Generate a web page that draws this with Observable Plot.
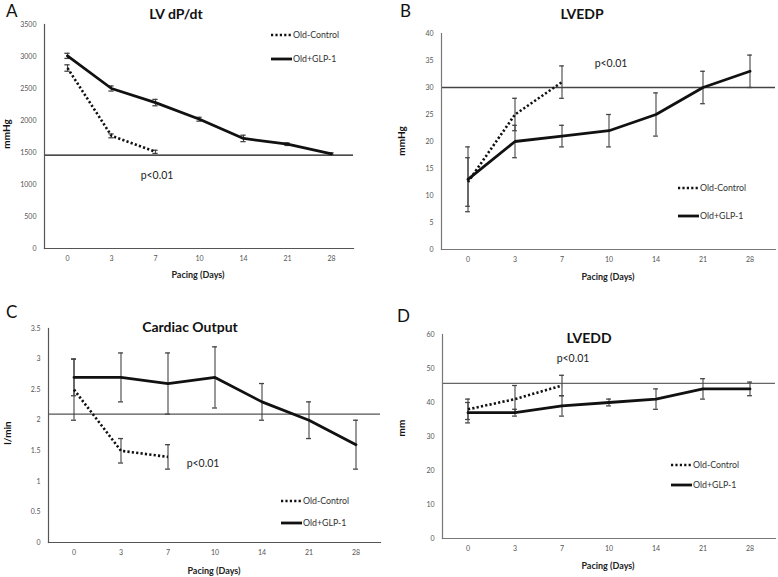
<!DOCTYPE html>
<html>
<head>
<meta charset="utf-8">
<script src="https://cdn.jsdelivr.net/npm/d3@7"></script>
<script src="https://cdn.jsdelivr.net/npm/@observablehq/plot@0.6"></script>
<style>
  body { margin: 0; background: #fff; }
  #wrap { position: relative; width: 778px; height: 577px; background: #fff; font-family: Lato, "Open Sans", sans-serif; }
  .panel { position: absolute; }
</style>
</head>
<body>
<div id="wrap"></div>
<script>
// ---------------- data ----------------
const days = ["0", "3", "7", "10", "14", "21", "28"];
const controlDays = ["0", "3", "7"];

// A: LV dP/dt (mmHg)
const aControl = [2820, 1760, 1510];
const aControlErr = [50, 30, 25];
const aGlp = [3010, 2500, 2280, 2020, 1720, 1630, 1480];
const aGlpErr = [40, 40, 50, 30, 50, 20, 15];
const aRef = 1460;
const aTicks = [0, 500, 1000, 1500, 2000, 2500, 3000, 3500];

// B: LVEDP (mmHg)
const bControl = [12.5, 25, 31];
const bControlErr = [4.5, 3, 3];
const bGlp = [13, 20, 21, 22, 25, 30, 33];
const bGlpErr = [6, 3, 2, 3, 4, 3, 3];
const bRef = 30;
const bTicks = [0, 5, 10, 15, 20, 25, 30, 35, 40];

// C: Cardiac Output (l/min)
const cControl = [2.5, 1.5, 1.4];
const cControlErr = [0.5, 0.2, 0.2];
const cGlp = [2.7, 2.7, 2.6, 2.7, 2.3, 2.0, 1.6];
const cGlpErr = [0.3, 0.4, 0.5, 0.5, 0.3, 0.3, 0.4];
const cRef = 2.1;
const cTicks = [0, 0.5, 1, 1.5, 2, 2.5, 3, 3.5];

// D: LVEDD (mm)
const dControl = [38, 41, 45];
const dControlErr = [3, 4, 3];
const dGlp = [37, 37, 39, 40, 41, 44, 44];
const dGlpErr = [3, 1, 3, 1, 3, 3, 2];
const dRef = 45.6;
const dTicks = [0, 10, 20, 30, 40, 50, 60];

const seriesNames = ["Old-Control", "Old+GLP-1"];
const xTitle = "Pacing (Days)";

// ---------------- helpers ----------------
function rows(cats, vals, errs, series) {
  return cats.map((d, i) => ({day: d, value: vals[i], lo: vals[i] - errs[i], hi: vals[i] + errs[i], series}));
}

function panel(cfg) {
  const ctrl = rows(controlDays, cfg.control, cfg.controlErr, seriesNames[0]);
  const glp = rows(days, cfg.glp, cfg.glpErr, seriesNames[1]);
  const all = ctrl.concat(glp);
  const bw = (cfg.W - cfg.mL - cfg.mR) / days.length;
  const capInset = bw / 2 - 2.7;
  const plot = Plot.plot({
    width: cfg.W, height: cfg.H,
    marginLeft: cfg.mL, marginRight: cfg.mR, marginTop: cfg.mT, marginBottom: cfg.mB,
    style: {fontFamily: "Lato, 'Open Sans', sans-serif", background: "transparent", overflow: "visible"},
    x: {type: "band", domain: days, padding: 0},
    y: {domain: [cfg.ticks[0], cfg.ticks[cfg.ticks.length - 1]]},
    marks: [
      Plot.axisY({ticks: cfg.ticks, tickSize: 0, tickPadding: 8, fontSize: 7, fill: "#555", label: null,
                  tickFormat: d => String(d)}),
      Plot.axisX({tickSize: 0, tickPadding: 8, fontSize: 7, fill: "#555", label: null}),
      Plot.ruleY([cfg.ref], {stroke: cfg.refColor, strokeWidth: 1.3}),
      Plot.ruleX(all, {x: "day", y1: "lo", y2: "hi", stroke: "#444", strokeWidth: 1.1}),
      Plot.tickY(all, {x: "day", y: "lo", stroke: "#444", strokeWidth: 1.3, insetLeft: capInset, insetRight: capInset}),
      Plot.tickY(all, {x: "day", y: "hi", stroke: "#444", strokeWidth: 1.3, insetLeft: capInset, insetRight: capInset}),
      Plot.line(ctrl, {x: "day", y: "value", stroke: "#111", strokeWidth: 2.6, strokeDasharray: "2.2 2.2", strokeLinecap: "butt"}),
      Plot.line(glp, {x: "day", y: "value", stroke: "#111", strokeWidth: 2.8}),
      Plot.frame({anchor: "left", stroke: cfg.axisColor, strokeWidth: 1.2}),
      Plot.frame({anchor: "bottom", stroke: cfg.axisColor, strokeWidth: 1.2})
    ]
  });

  const svg = d3.select(plot);
  const font = "Lato, 'Open Sans', sans-serif";
  svg.append("text").attr("x", cfg.letterX).attr("y", cfg.letterY).attr("font-size", 17)
    .attr("text-anchor", "start").attr("font-family", font).attr("fill", "#111").text(cfg.letter);
  svg.append("text").attr("x", cfg.titleX).attr("y", cfg.titleY).attr("font-size", 14).attr("font-weight", "bold")
    .attr("text-anchor", "middle").attr("font-family", font).attr("fill", "#111").text(cfg.title);
  svg.append("text").attr("transform", `translate(${cfg.yLabX},${cfg.yLabY}) rotate(-90)`)
    .attr("font-size", 10).attr("font-weight", "bold").attr("text-anchor", "middle")
    .attr("font-family", font).attr("fill", "#111").text(cfg.yLabel);
  svg.append("text").attr("x", cfg.xLabX).attr("y", cfg.xLabY).attr("font-size", 9).attr("font-weight", "bold")
    .attr("text-anchor", "middle").attr("font-family", font).attr("fill", "#222").text(xTitle);
  svg.append("text").attr("x", cfg.pX).attr("y", cfg.pY).attr("font-size", 10.5)
    .attr("text-anchor", "middle").attr("font-family", font).attr("fill", "#222").text("p<0.01");
  const lg = svg.append("g");
  lg.append("line").attr("x1", cfg.legX).attr("x2", cfg.legX + 21).attr("y1", cfg.legY1).attr("y2", cfg.legY1)
    .attr("stroke", "#111").attr("stroke-width", 2.4).attr("stroke-dasharray", "2.2 2.2");
  lg.append("line").attr("x1", cfg.legX).attr("x2", cfg.legX + 21).attr("y1", cfg.legY2).attr("y2", cfg.legY2)
    .attr("stroke", "#111").attr("stroke-width", 2.8);
  lg.append("text").attr("x", cfg.legX + 22).attr("y", cfg.legY1 + 3).attr("font-size", 8.8)
    .attr("text-anchor", "start").attr("font-family", font).attr("fill", "#333").text(seriesNames[0]);
  lg.append("text").attr("x", cfg.legX + 22).attr("y", cfg.legY2 + 3).attr("font-size", 8.8)
    .attr("text-anchor", "start").attr("font-family", font).attr("fill", "#333").text(seriesNames[1]);

  const div = document.createElement("div");
  div.className = "panel";
  div.style.left = cfg.left + "px";
  div.style.top = cfg.top + "px";
  div.appendChild(plot);
  document.getElementById("wrap").appendChild(div);
}

panel({
  left: 0, top: 0, W: 389, H: 285, mL: 44, mR: 36, mT: 24, mB: 37,
  control: aControl, controlErr: aControlErr, glp: aGlp, glpErr: aGlpErr, ref: aRef, ticks: aTicks,
  refColor: "#111", axisColor: "#555",
  letter: "A", letterX: 6, letterY: 17, title: "LV dP/dt", titleX: 176, titleY: 19,
  yLabel: "mmHg", yLabX: 10, yLabY: 134, xLabX: 198, xLabY: 278,
  pX: 157, pY: 179, legX: 271, legY1: 35, legY2: 59
});

panel({
  left: 389, top: 0, W: 389, H: 285, mL: 52, mR: 3, mT: 33, mB: 36,
  control: bControl, controlErr: bControlErr, glp: bGlp, glpErr: bGlpErr, ref: bRef, ticks: bTicks,
  refColor: "#444", axisColor: "#777",
  letter: "B", letterX: 11, letterY: 17, title: "LVEDP", titleX: 193, titleY: 19,
  yLabel: "mmHg", yLabX: 16, yLabY: 141, xLabX: 219, xLabY: 280,
  pX: 222, pY: 67, legX: 289, legY1: 188, legY2: 216
});

panel({
  left: 0, top: 285, W: 389, H: 292, mL: 48, mR: 9, mT: 43, mB: 35,
  control: cControl, controlErr: cControlErr, glp: cGlp, glpErr: cGlpErr, ref: cRef, ticks: cTicks,
  refColor: "#555", axisColor: "#555",
  letter: "C", letterX: 6, letterY: 33, title: "Cardiac Output", titleX: 190, titleY: 47,
  yLabel: "l/min", yLabX: 11, yLabY: 148, xLabX: 214, xLabY: 289,
  pX: 203, pY: 182, legX: 281, legY1: 216, legY2: 238
});

panel({
  left: 389, top: 285, W: 389, H: 292, mL: 53, mR: 3, mT: 49, mB: 39,
  control: dControl, controlErr: dControlErr, glp: dGlp, glpErr: dGlpErr, ref: dRef, ticks: dTicks,
  refColor: "#666", axisColor: "#777",
  letter: "D", letterX: 8, letterY: 37, title: "LVEDD", titleX: 200, titleY: 58,
  yLabel: "mm", yLabX: 16, yLabY: 143, xLabX: 219, xLabY: 284,
  pX: 184, pY: 77, legX: 282, legY1: 180, legY2: 200
});
</script>
</body>
</html>
